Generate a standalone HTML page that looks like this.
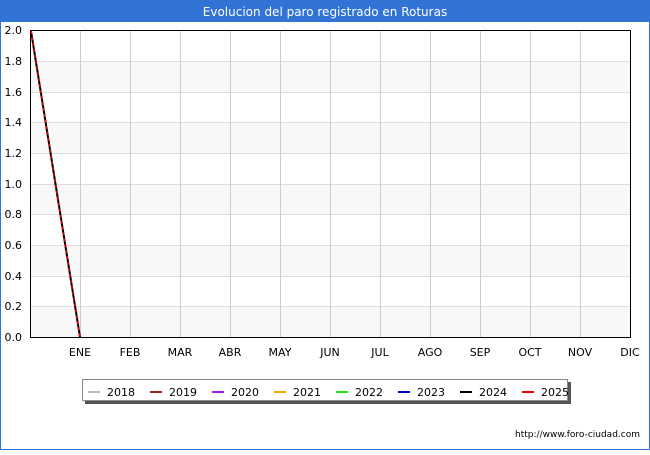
<!DOCTYPE html>
<html><head><meta charset="utf-8"><style>
body{margin:0;width:650px;height:450px;overflow:hidden;background:#fff;font-family:"Liberation Sans","DejaVu Sans",sans-serif}
</style></head><body>
<svg width="650" height="450" xmlns="http://www.w3.org/2000/svg" font-family="DejaVu Sans, Liberation Sans, sans-serif">
<rect x="0" y="0" width="650" height="450" fill="#fff"/>
<rect x="0.5" y="0.5" width="649" height="449" fill="none" stroke="#3273d6" stroke-width="1"/>
<rect x="0" y="0" width="650" height="22" fill="#3273d6"/>
<text x="325" y="16" text-anchor="middle" fill="#fff" font-size="12">Evolucion del paro registrado en Roturas</text>
<g fill="#f8f8f8">
<rect x="31" y="61" width="599" height="31"/>
<rect x="31" y="122" width="599" height="31"/>
<rect x="31" y="184" width="599" height="31"/>
<rect x="31" y="245" width="599" height="31"/>
<rect x="31" y="307" width="599" height="30"/>
</g>
<g stroke="#ddd" stroke-width="1">
<line x1="31" x2="630" y1="61.5" y2="61.5"/><line x1="31" x2="630" y1="92.5" y2="92.5"/>
<line x1="31" x2="630" y1="122.5" y2="122.5"/><line x1="31" x2="630" y1="153.5" y2="153.5"/>
<line x1="31" x2="630" y1="184.5" y2="184.5"/><line x1="31" x2="630" y1="214.5" y2="214.5"/>
<line x1="31" x2="630" y1="245.5" y2="245.5"/><line x1="31" x2="630" y1="276.5" y2="276.5"/>
<line x1="31" x2="630" y1="306.5" y2="306.5"/>
</g>
<g stroke="#ccc" stroke-width="1">
<line x1="80.5" x2="80.5" y1="30" y2="337"/><line x1="130.5" x2="130.5" y1="30" y2="337"/>
<line x1="180.5" x2="180.5" y1="30" y2="337"/><line x1="230.5" x2="230.5" y1="30" y2="337"/>
<line x1="280.5" x2="280.5" y1="30" y2="337"/><line x1="330.5" x2="330.5" y1="30" y2="337"/>
<line x1="380.5" x2="380.5" y1="30" y2="337"/><line x1="430.5" x2="430.5" y1="30" y2="337"/>
<line x1="480.5" x2="480.5" y1="30" y2="337"/><line x1="530.5" x2="530.5" y1="30" y2="337"/>
<line x1="580.5" x2="580.5" y1="30" y2="337"/>
</g>
<rect x="30.5" y="30.5" width="600" height="307" fill="none" stroke="#000" stroke-width="1"/>
<line x1="31" y1="31" x2="80" y2="337" stroke="#000" stroke-width="2"/>
<line x1="31" y1="31" x2="80" y2="337" stroke="#e00" stroke-width="1.5" stroke-dasharray="3,3"/>
<g font-size="11" fill="#000" text-anchor="end">
<text x="22" y="34">2.0</text><text x="22" y="65">1.8</text><text x="22" y="96">1.6</text>
<text x="22" y="126">1.4</text><text x="22" y="157">1.2</text><text x="22" y="188">1.0</text>
<text x="22" y="218">0.8</text><text x="22" y="249">0.6</text><text x="22" y="280">0.4</text>
<text x="22" y="310">0.2</text><text x="22" y="341">0.0</text>
</g>
<g font-size="11" fill="#000" text-anchor="middle">
<text x="80" y="356">ENE</text><text x="130" y="356">FEB</text><text x="180" y="356">MAR</text>
<text x="230" y="356">ABR</text><text x="280" y="356">MAY</text><text x="330" y="356">JUN</text>
<text x="380" y="356">JUL</text><text x="430" y="356">AGO</text><text x="480" y="356">SEP</text>
<text x="530" y="356">OCT</text><text x="580" y="356">NOV</text><text x="630" y="356">DIC</text>
</g>
<rect x="85" y="382" width="486" height="22" fill="#555"/>
<rect x="82.5" y="379.5" width="485" height="21" fill="#fff" stroke="#888"/>
<g stroke-width="2">
<line x1="88" x2="100" y1="392" y2="392" stroke="#bbb"/>
<line x1="150" x2="162" y1="392" y2="392" stroke="#a02020"/>
<line x1="212" x2="224" y1="392" y2="392" stroke="#a020f0"/>
<line x1="274" x2="286" y1="392" y2="392" stroke="#ffa500"/>
<line x1="336" x2="348" y1="392" y2="392" stroke="#22dd22"/>
<line x1="398" x2="410" y1="392" y2="392" stroke="#0000cc"/>
<line x1="460" x2="472" y1="392" y2="392" stroke="#000"/>
<line x1="522" x2="534" y1="392" y2="392" stroke="#ee0000"/>
</g>
<g font-size="11" fill="#000">
<text x="107" y="396">2018</text><text x="169" y="396">2019</text><text x="231" y="396">2020</text>
<text x="293" y="396">2021</text><text x="355" y="396">2022</text><text x="417" y="396">2023</text>
<text x="479" y="396">2024</text><text x="541" y="396">2025</text>
</g>
<text x="640" y="437" text-anchor="end" font-size="9" fill="#000">http://www.foro-ciudad.com</text>
</svg>
</body></html>
